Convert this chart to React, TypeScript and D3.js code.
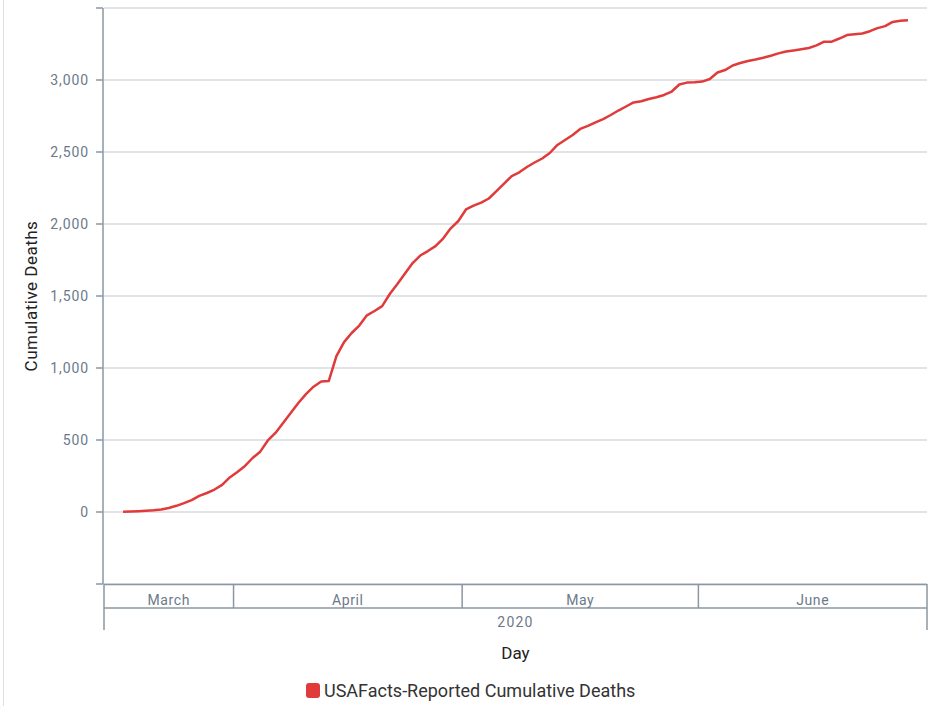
import React from 'react';
import * as d3 from 'd3';

// daily cumulative deaths, one value per day starting 2020-03-17
const startDay = '2020-03-17';
const deaths = [
  2, 3, 5, 8, 12, 18, 28, 43, 62, 83, 112, 132, 156, 188, 240, 278, 320, 375, 419, 497, 549,
  618, 688, 757, 819, 870, 906, 910, 1083, 1180, 1243, 1295, 1366, 1396, 1430, 1514, 1583, 1656, 1729, 1781, 1812, 1846,
  1899, 1970, 2021, 2101, 2128, 2149, 2177, 2229, 2281, 2333, 2359, 2396, 2427, 2455, 2493, 2549, 2583, 2618, 2660, 2681,
  2705, 2728, 2757, 2788, 2816, 2844, 2852, 2868, 2880, 2896, 2920, 2969, 2982, 2984, 2989, 3007, 3052, 3069, 3101, 3118, 3132,
  3142, 3154, 3168, 3185, 3198, 3205, 3213, 3222, 3240, 3266, 3266, 3288, 3312, 3317, 3323, 3339, 3360, 3374, 3403, 3411, 3415,
];
const xDomain = ['2020-03-15', '2020-07-01'];
const yTicks = [-500, 0, 500, 1000, 1500, 2000, 2500, 3000, 3500];
const yLabelled = [0, 500, 1000, 1500, 2000, 2500, 3000];
const yearLabel = '2020';
const seriesName = 'USAFacts-Reported Cumulative Deaths';

const W = 934;
const H = 706;
const left = 104, right = 927, top = 8, bottom = 584;
const axisColor = '#8a97a3';
const labelColor = '#6b7a89';
const font = 'Roboto, sans-serif';

const parse = d3.utcParse('%Y-%m-%d');

export default function App() {
  const start = parse(startDay) as Date;
  const data = deaths.map((v, i) => ({
    date: d3.utcHour.offset(d3.utcDay.offset(start, i), 12),
    value: v,
  }));

  const x = d3.scaleUtc()
    .domain(xDomain.map(s => parse(s) as Date))
    .range([left, right]);
  const y = d3.scaleLinear().domain([-500, 3500]).range([bottom, top]);

  const line = d3.line<{ date: Date; value: number }>()
    .x(d => x(d.date))
    .y(d => y(d.value));

  const [d0, d1] = x.domain();
  const monthStarts = d3.utcMonth.range(d3.utcMonth.floor(d0), d1);
  const months = monthStarts.map(m => {
    const a = m < d0 ? d0 : m;
    const bRaw = d3.utcMonth.offset(m, 1);
    const b = bRaw > d1 ? d1 : bRaw;
    return { name: d3.utcFormat('%B')(m), x0: x(a), x1: x(b) };
  });
  const fmt = d3.format(',');
  const rowBottom = bottom + 24;
  const yearBottom = bottom + 46;

  return (
    <svg width={W} height={H} style={{ position: 'absolute', left: 0, top: 0, background: '#fff' }} fontFamily={font}>
      <line x1={3.5} x2={3.5} y1={0} y2={H} stroke="#dde2e6" />

      {/* gridlines */}
      {yTicks.map(t => (
        <line key={t} x1={left} x2={right} y1={y(t)} y2={y(t)} stroke="#c3c9ce" strokeWidth={1.2} />
      ))}

      {/* y axis */}
      <line x1={left - 1} x2={left - 1} y1={top} y2={bottom} stroke={axisColor} strokeWidth={1.5} />
      {yTicks.map(t => (
        <line key={'t' + t} x1={left - 8} x2={left - 1} y1={y(t)} y2={y(t)} stroke={axisColor} strokeWidth={1.5} />
      ))}
      {yLabelled.map(t => (
        <text key={'l' + t} x={left - 15} y={y(t)} dy="0.35em" textAnchor="end" fontSize={14}
          letterSpacing={0.9} fill={labelColor}>{fmt(t)}</text>
      ))}
      <text transform={`translate(37,${(top + bottom) / 2}) rotate(-90)`} textAnchor="middle" fontSize={17}
        letterSpacing={0.5} fill="#222">Cumulative Deaths</text>

      {/* x axis: month tier + year tier */}
      <line x1={left} x2={right} y1={bottom + 0.5} y2={bottom + 0.5} stroke={axisColor} strokeWidth={1.5} />
      <line x1={left} x2={right} y1={rowBottom} y2={rowBottom} stroke={axisColor} strokeWidth={1.5} />
      <line x1={left} x2={left} y1={bottom} y2={yearBottom} stroke={axisColor} strokeWidth={1.5} />
      <line x1={right} x2={right} y1={bottom} y2={yearBottom} stroke={axisColor} strokeWidth={1.5} />
      {months.map((m, i) => (
        <g key={m.name}>
          {i > 0 && <line x1={m.x0} x2={m.x0} y1={bottom} y2={rowBottom} stroke={axisColor} strokeWidth={1.5} />}
          <text x={(m.x0 + m.x1) / 2} y={bottom + 21} textAnchor="middle" fontSize={14} letterSpacing={0.6}
            fill={labelColor}>{m.name}</text>
        </g>
      ))}
      <text x={(left + right) / 2} y={bottom + 43} textAnchor="middle" fontSize={14} letterSpacing={1.2}
        fill={labelColor}>{yearLabel}</text>
      <text x={(left + right) / 2} y={659} textAnchor="middle" fontSize={17} fill="#222">Day</text>

      {/* series */}
      <path d={line(data) ?? ''} fill="none" stroke="#e03a3a" strokeWidth={2.5} strokeLinejoin="round" />

      {/* legend */}
      <rect x={306} y={683} width={14} height={15} rx={3} fill="#e03a3a" />
      <text x={324} y={697} fontSize={18} fill="#333">{seriesName}</text>
    </svg>
  );
}
